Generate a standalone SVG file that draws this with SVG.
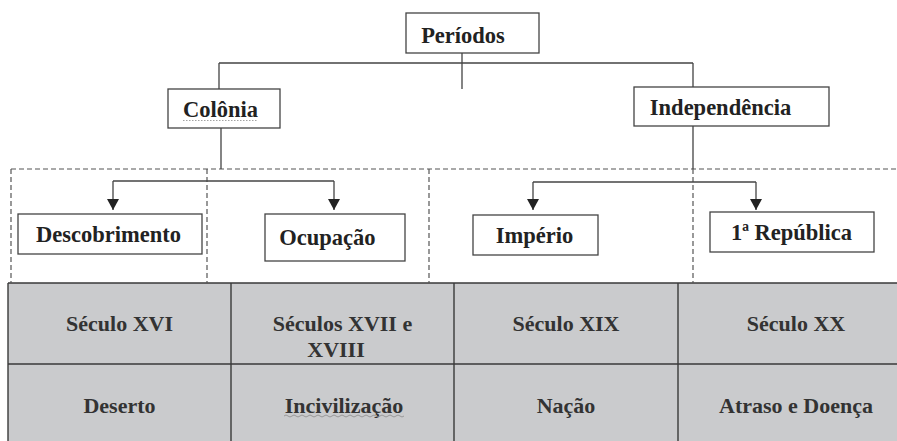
<svg xmlns="http://www.w3.org/2000/svg" width="897" height="441" viewBox="0 0 897 441">
<defs>
<style>
.box{fill:#fff;stroke:#444;stroke-width:1.3}
.lbl{font-family:"Liberation Serif","Noto Serif","DejaVu Serif",Tinos,FreeSerif,"Times New Roman",serif;font-weight:700;font-size:22.5px;fill:#222;text-anchor:middle}
.cell{font-family:"Liberation Serif","Noto Serif","DejaVu Serif",Tinos,FreeSerif,"Times New Roman",serif;font-weight:700;font-size:22px;fill:#333;text-anchor:middle}
.ln{fill:none;stroke:#444;stroke-width:1.3}
.dash{fill:none;stroke:#555;stroke-width:1.2;stroke-dasharray:5 3}
.grid{fill:none;stroke:#3a3a3a;stroke-width:1.4}
</style>
<marker id="arr" viewBox="0 0 11 12" refX="11" refY="6" markerWidth="11" markerHeight="12" markerUnits="userSpaceOnUse" orient="auto">
<path d="M0,0 L11,6 L0,12 Z" fill="#222"/>
</marker>
</defs>
<rect width="897" height="441" fill="#fff"/>

<g id="table">
<rect x="8" y="283" width="910" height="170" fill="#cacbcd"/>
<path class="grid" d="M8,283 H897 M8,364 H897 M8,283 V441 M231,283 V441 M454,283 V441 M678,283 V441"/>
<text class="cell" x="119.5" y="331">Século XVI</text>
<text class="cell" x="342.5" y="331">Séculos XVII e</text>
<text class="cell" x="336" y="357">XVIII</text>
<text class="cell" x="566" y="331">Século XIX</text>
<text class="cell" x="796" y="331">Século XX</text>
<text class="cell" x="119.5" y="413">Deserto</text>
<text class="cell" x="344" y="413">Incivilização</text>
<text class="cell" x="566" y="413">Nação</text>
<text class="cell" x="796" y="413">Atraso e Doença</text>
<path d="M284,416 q2,-2 4,0 t4,0 t4,0 t4,0 t4,0 t4,0 t4,0 t4,0 t4,0 t4,0 t4,0 t4,0 t4,0 t4,0 t4,0 t4,0 t4,0 t4,0 t4,0 t4,0 t4,0 t4,0 t4,0 t4,0 t4,0 t4,0 t4,0 t4,0 t4,0 t4,0" fill="none" stroke="#8a8a8a" stroke-width="0.8"/>
</g>

<g id="frame">
<path class="dash" d="M11,169 H897 M11,169 V283 M207,169 V283 M429,169 V283 M693,169 V283"/>
</g>

<g id="connectors">
<path class="ln" d="M462,53 V89 M219,63 H693 M219,63 V89 M693,63 V87"/>
<path class="ln" d="M221,128 V169 M693,126 V169"/>
<path class="ln" d="M113,181 H334"/>
<path class="ln" d="M113,181 V210" marker-end="url(#arr)"/>
<path class="ln" d="M334,181 V210" marker-end="url(#arr)"/>
<path class="ln" d="M533,182 H756"/>
<path class="ln" d="M533,182 V210" marker-end="url(#arr)"/>
<path class="ln" d="M756,182 V210" marker-end="url(#arr)"/>
</g>

<g id="periodos">
<rect class="box" x="406" y="13" width="133" height="40"/>
<text class="lbl" x="463" y="43">Períodos</text>
</g>
<g id="colonia">
<rect class="box" x="168" y="89" width="112" height="39"/>
<text class="lbl" x="220.5" y="117">Colônia</text>
<line x1="183" y1="120.5" x2="258" y2="120.5" stroke="#999" stroke-width="0.9" stroke-dasharray="1.5 1.5"/>
</g>
<g id="independencia">
<rect class="box" x="634" y="87" width="195" height="39"/>
<text class="lbl" x="720.5" y="115">Independência</text>
</g>
<g id="descobrimento">
<rect class="box" x="18" y="214" width="184" height="40"/>
<text class="lbl" x="108.5" y="242">Descobrimento</text>
</g>
<g id="ocupacao">
<rect class="box" x="265" y="214" width="140" height="47"/>
<text class="lbl" x="327.5" y="245">Ocupação</text>
</g>
<g id="imperio">
<rect class="box" x="473" y="215" width="125" height="40"/>
<text class="lbl" x="534.5" y="243">Império</text>
</g>
<g id="republica">
<rect class="box" x="710" y="212" width="164" height="40"/>
<text class="lbl" x="791.5" y="240">1ª República</text>
</g>
</svg>
